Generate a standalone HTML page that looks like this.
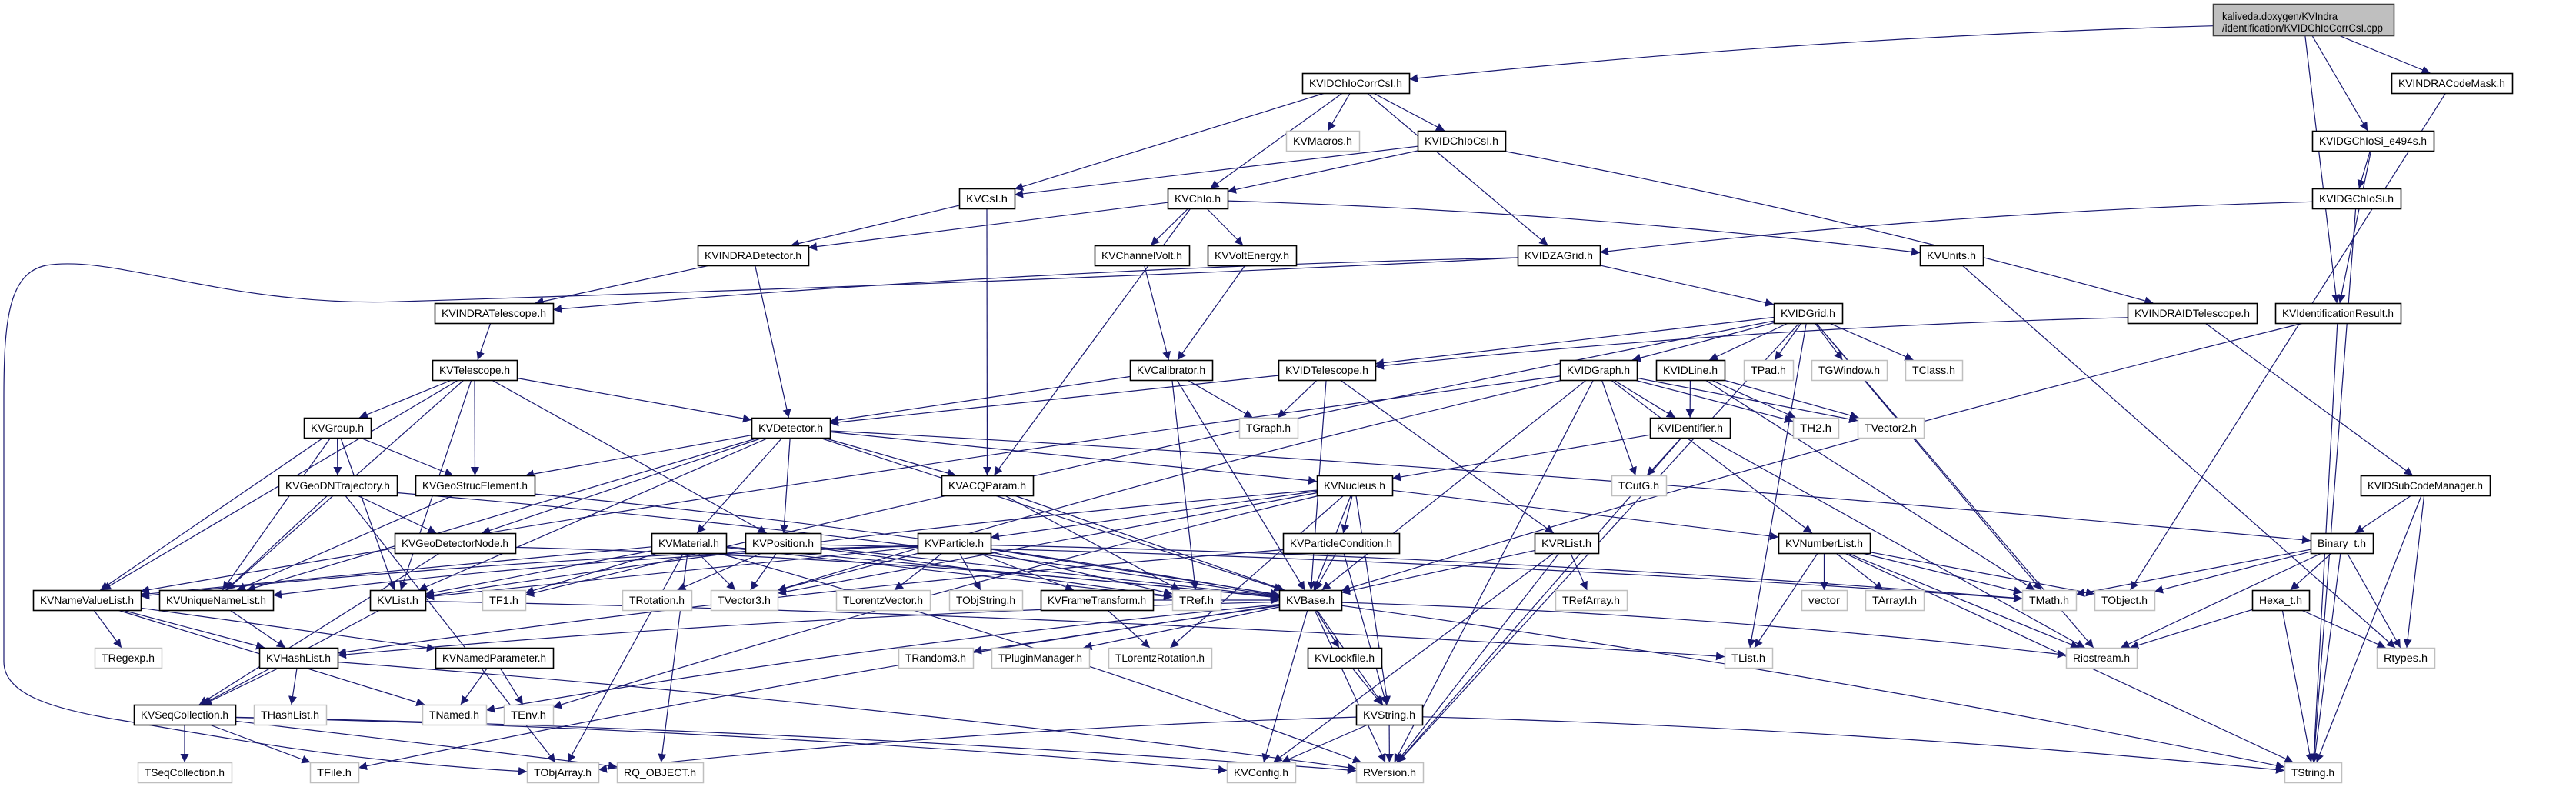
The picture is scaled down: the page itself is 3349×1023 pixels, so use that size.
<!DOCTYPE html>
<html><head><meta charset="utf-8">
<style>
html,body{margin:0;padding:0;background:#fff;width:3349px;height:1023px;overflow:hidden}
svg{display:block}
text{font-family:"Liberation Sans",sans-serif;font-size:13.5px;fill:#000}
</style></head>
<body>
<svg id="g" width="3349" height="1023" viewBox="0 0 3349 1023" xmlns="http://www.w3.org/2000/svg">
<defs>
<marker id="ah" viewBox="0 0 10 10" refX="10" refY="5" markerWidth="11" markerHeight="11" markerUnits="userSpaceOnUse" orient="auto">
<path d="M0,0 L10,5 L0,10 z" fill="#191970"/>
</marker>
</defs>
<g id="edges" fill="none" stroke="#191970" stroke-width="1.2">
<path d="M1973,335 C1500,360 900,380 520,392 C300,400 150,330 60,345 C10,355 5,420 5,520 L5,860 C5,900 60,920 150,935 C300,960 450,990 685,1003" marker-end="url(#ah)"/>
</g>
<g id="nodes"></g>
</svg>
<script>
var R=[6,95,170,245,319,394,468,543,618,693,767,842,916,991];
var N={
"root":[2877,3112,-1,0],
"KVIDChIoCorrCsI.h":[1693,1832,1,0],
"KVINDRACodeMask.h":[3109,3266,1,0],
"KVMacros.h":[1672,1767,2,1],
"KVIDChIoCsI.h":[1843,1957,2,0],
"KVIDGChIoSi_e494s.h":[3006,3164,2,0],
"KVCsI.h":[1247,1319,3,0],
"KVChIo.h":[1518,1596,3,0],
"KVIDGChIoSi.h":[3006,3121,3,0],
"KVINDRADetector.h":[907,1051,4,0],
"KVChannelVolt.h":[1423,1546,4,0],
"KVVoltEnergy.h":[1570,1685,4,0],
"KVIDZAGrid.h":[1973,2080,4,0],
"KVUnits.h":[2496,2578,4,0],
"KVINDRATelescope.h":[565,719,5,0],
"KVIDGrid.h":[2306,2395,5,0],
"KVINDRAIDTelescope.h":[2766,2934,5,0],
"KVIdentificationResult.h":[2958,3121,5,0],
"KVTelescope.h":[562,672,6,0],
"KVCalibrator.h":[1469,1576,6,0],
"KVIDTelescope.h":[1662,1788,6,0],
"KVIDGraph.h":[2028,2128,6,0],
"KVIDLine.h":[2153,2242,6,0],
"TPad.h":[2267,2331,6,1],
"TGWindow.h":[2355,2453,6,1],
"TClass.h":[2477,2551,6,1],
"KVGroup.h":[395,482,7,0],
"KVDetector.h":[977,1079,7,0],
"TGraph.h":[1611,1687,7,1],
"KVIDentifier.h":[2145,2249,7,0],
"TH2.h":[2331,2390,7,1],
"TVector2.h":[2415,2501,7,1],
"KVGeoDNTrajectory.h":[362,516,8,0],
"KVGeoStrucElement.h":[540,695,8,0],
"KVACQParam.h":[1224,1343,8,0],
"KVNucleus.h":[1712,1810,8,0],
"TCutG.h":[2095,2166,8,1],
"KVIDSubCodeManager.h":[3069,3237,8,0],
"KVGeoDetectorNode.h":[513,670,9,0],
"KVMaterial.h":[847,944,9,0],
"KVPosition.h":[969,1067,9,0],
"KVParticle.h":[1193,1288,9,0],
"KVParticleCondition.h":[1668,1819,9,0],
"KVRList.h":[1995,2078,9,0],
"KVNumberList.h":[2312,2431,9,0],
"Binary_t.h":[3004,3085,9,0],
"KVNameValueList.h":[43,183,10,0],
"KVUniqueNameList.h":[207,355,10,0],
"KVList.h":[481,553,10,0],
"TF1.h":[627,683,10,1],
"TRotation.h":[809,899,10,1],
"TVector3.h":[924,1011,10,1],
"TLorentzVector.h":[1087,1209,10,1],
"TObjString.h":[1234,1329,10,1],
"KVFrameTransform.h":[1353,1499,10,0],
"TRef.h":[1524,1587,10,1],
"KVBase.h":[1663,1744,10,0],
"TRefArray.h":[2022,2115,10,1],
"vector":[2342,2401,10,1],
"TArrayI.h":[2425,2501,10,1],
"TMath.h":[2629,2699,10,1],
"TObject.h":[2723,2801,10,1],
"Hexa_t.h":[2928,3002,10,0],
"TRegexp.h":[123,210,11,1],
"KVHashList.h":[337,439,11,0],
"KVNamedParameter.h":[566,719,11,0],
"TRandom3.h":[1168,1265,11,1],
"TPluginManager.h":[1289,1416,11,1],
"TLorentzRotation.h":[1441,1575,11,1],
"KVLockfile.h":[1700,1796,11,0],
"TList.h":[2242,2304,11,1],
"Riostream.h":[2686,2778,11,1],
"Rtypes.h":[3090,3165,11,1],
"KVSeqCollection.h":[174,306,12,0],
"THashList.h":[330,424,12,1],
"TNamed.h":[549,632,12,1],
"TEnv.h":[655,719,12,1],
"KVString.h":[1763,1849,12,0],
"TSeqCollection.h":[179,301,13,1],
"TFile.h":[403,466,13,1],
"TObjArray.h":[685,778,13,1],
"RQ_OBJECT.h":[802,914,13,1],
"KVConfig.h":[1595,1684,13,1],
"RVersion.h":[1763,1850,13,1],
"TString.h":[2970,3044,13,1]
};
var E={
"root":["KVIDChIoCorrCsI.h","KVINDRACodeMask.h","KVIDGChIoSi_e494s.h","KVIdentificationResult.h"],
"KVIDChIoCorrCsI.h":["KVCsI.h","KVMacros.h","KVIDChIoCsI.h","KVChIo.h","KVIDZAGrid.h"],
"KVIDChIoCsI.h":["KVChIo.h","KVCsI.h","KVINDRAIDTelescope.h"],
"KVCsI.h":["KVINDRADetector.h","KVACQParam.h"],
"KVChIo.h":["KVINDRADetector.h","KVChannelVolt.h","KVVoltEnergy.h","KVUnits.h","KVACQParam.h"],
"KVINDRADetector.h":["KVINDRATelescope.h","KVDetector.h"],
"KVINDRATelescope.h":["KVTelescope.h"],
"KVChannelVolt.h":["KVCalibrator.h"],
"KVVoltEnergy.h":["KVCalibrator.h"],
"KVIDGChIoSi_e494s.h":["KVIDGChIoSi.h","KVIdentificationResult.h"],
"KVIDGChIoSi.h":["KVIDZAGrid.h","TString.h"],
"KVINDRACodeMask.h":["TObject.h"],
"KVIDZAGrid.h":["KVIDGrid.h","KVINDRATelescope.h"],
"KVUnits.h":["Rtypes.h"],
"KVINDRAIDTelescope.h":["KVIDTelescope.h","KVIDSubCodeManager.h"],
"KVIdentificationResult.h":["KVBase.h","TString.h"],
"KVIDGrid.h":["KVIDGraph.h","KVIDLine.h","TPad.h","TGWindow.h","TClass.h","TMath.h","TList.h","Riostream.h","RVersion.h","TF1.h","KVIDTelescope.h"],
"KVIDTelescope.h":["KVDetector.h","TGraph.h","KVRList.h","KVBase.h"],
"KVCalibrator.h":["KVDetector.h","TGraph.h","TRef.h","KVBase.h"],
"KVIDGraph.h":["KVIDentifier.h","TCutG.h","TH2.h","TVector2.h","KVNumberList.h","RVersion.h","KVNameValueList.h","TVector3.h","KVBase.h"],
"KVIDLine.h":["KVIDentifier.h","TH2.h","TVector2.h","TMath.h"],
"KVIDentifier.h":["KVNucleus.h","TCutG.h","Riostream.h","RVersion.h"],
"KVTelescope.h":["KVGroup.h","KVGeoStrucElement.h","KVDetector.h","KVPosition.h","KVNameValueList.h","KVList.h","KVUniqueNameList.h"],
"KVGroup.h":["KVGeoDNTrajectory.h","KVGeoStrucElement.h","KVNameValueList.h","KVList.h","KVUniqueNameList.h"],
"KVGeoDNTrajectory.h":["KVGeoDetectorNode.h","KVUniqueNameList.h","TObjArray.h","KVBase.h"],
"KVGeoStrucElement.h":["KVUniqueNameList.h","KVBase.h"],
"KVGeoDetectorNode.h":["KVSeqCollection.h","KVBase.h"],
"KVDetector.h":["KVMaterial.h","KVPosition.h","KVACQParam.h","KVNucleus.h","KVList.h","KVGeoDetectorNode.h","KVGeoStrucElement.h","Binary_t.h","KVBase.h","KVUniqueNameList.h"],
"KVMaterial.h":["TVector3.h","TF1.h","KVList.h","KVBase.h","TRef.h","RQ_OBJECT.h","TObjArray.h","RVersion.h","KVNameValueList.h"],
"KVPosition.h":["TRotation.h","TVector3.h","KVBase.h","TMath.h","TRef.h"],
"KVParticle.h":["TLorentzVector.h","TObjString.h","KVFrameTransform.h","TVector3.h","KVList.h","KVNameValueList.h","TRef.h","KVBase.h","TMath.h","KVUniqueNameList.h"],
"KVFrameTransform.h":["TLorentzRotation.h","KVBase.h"],
"KVACQParam.h":["KVBase.h","TRef.h"],
"KVNucleus.h":["KVParticleCondition.h","KVParticle.h","KVBase.h","KVString.h","KVNumberList.h","TVector3.h","KVList.h","TEnv.h","TLorentzRotation.h"],
"KVParticleCondition.h":["KVBase.h","KVString.h","KVHashList.h"],
"KVRList.h":["KVBase.h","TRefArray.h","KVConfig.h","RVersion.h"],
"KVNumberList.h":["vector","TArrayI.h","TList.h","TObject.h","TMath.h","TString.h","Riostream.h"],
"Binary_t.h":["TMath.h","TObject.h","Hexa_t.h","Riostream.h","Rtypes.h","TString.h"],
"Hexa_t.h":["Riostream.h","Rtypes.h","TString.h"],
"KVIDSubCodeManager.h":["Binary_t.h","Rtypes.h","TString.h"],
"KVNameValueList.h":["TRegexp.h","KVHashList.h","KVNamedParameter.h","TNamed.h"],
"KVUniqueNameList.h":["KVHashList.h"],
"KVList.h":["KVSeqCollection.h","TList.h"],
"KVHashList.h":["KVSeqCollection.h","THashList.h","RVersion.h"],
"KVNamedParameter.h":["TNamed.h","TEnv.h"],
"KVSeqCollection.h":["TSeqCollection.h","TFile.h","KVConfig.h","RVersion.h","RQ_OBJECT.h"],
"KVBase.h":["KVHashList.h","TRandom3.h","TPluginManager.h","KVLockfile.h","KVString.h","KVConfig.h","RVersion.h","TString.h","Riostream.h","TNamed.h","TFile.h"],
"KVLockfile.h":["KVString.h"],
"KVString.h":["KVConfig.h","RVersion.h","TString.h","TObjArray.h"]
};
function box(n){var a=N[n];var y1=a[2]<0?5:R[a[2]],y2=a[2]<0?46:R[a[2]]+26;return {x1:a[0],x2:a[1],y1:y1,y2:y2,cx:(a[0]+a[1])/2,cy:(y1+y2)/2};}
function clip(b,px,py,qx,qy){
 var dx=qx-px,dy=qy-py,t=1e9;
 var hw=(b.x2-b.x1)/2,hh=(b.y2-b.y1)/2;
 if(dx!==0)t=Math.min(t,hw/Math.abs(dx));
 if(dy!==0)t=Math.min(t,hh/Math.abs(dy));
 return [px+dx*t,py+dy*t];}
var ns="http://www.w3.org/2000/svg";
var eg=document.getElementById("edges"),ng=document.getElementById("nodes");
for(var s in E){var a=box(s);E[s].forEach(function(t){
 var b=box(t);
 var sx=a.cx+(b.cx-a.cx)*0.08, tx=b.cx+(a.cx-b.cx)*0.04;
 var p=clip(a,a.cx,a.cy,tx,b.cy);var q=clip(b,b.cx,b.cy,sx,a.cy);
 var path=document.createElementNS(ns,"path");
 var mx=(p[0]+q[0])/2,my=(p[1]+q[1])/2;
 path.setAttribute("d","M"+p[0].toFixed(1)+","+p[1].toFixed(1)+" Q"+(mx).toFixed(1)+","+(my+(Math.abs(q[0]-p[0])>800?-20:0)).toFixed(1)+" "+q[0].toFixed(1)+","+q[1].toFixed(1));
 path.setAttribute("marker-end","url(#ah)");
 eg.appendChild(path);});}
for(var n in N){var b=box(n),g=N[n][3];
 var r=document.createElementNS(ns,"rect");
 r.setAttribute("x",b.x1+0.5);r.setAttribute("y",b.y1+0.5);
 r.setAttribute("width",b.x2-b.x1);r.setAttribute("height",b.y2-b.y1);
 r.setAttribute("fill",n=="root"?"#bfbfbf":"#fff");
 r.setAttribute("stroke",g?"#bfbfbf":(n=="root"?"#404040":"#000"));
 r.setAttribute("stroke-width",g?"1.5":"1.6");
 ng.appendChild(r);
 if(n=="root"){
  ["kaliveda.doxygen/KVIndra","/identification/KVIDChIoCorrCsI.cpp"].forEach(function(s,i){
   var t=document.createElementNS(ns,"text");t.setAttribute("x",b.x1+12);t.setAttribute("y",b.y1+21+i*15);
   t.setAttribute("textLength",i?209:150);t.setAttribute("lengthAdjust","spacingAndGlyphs");
   t.textContent=s;ng.appendChild(t);});
 } else {
  var t=document.createElementNS(ns,"text");
  t.setAttribute("x",b.cx);t.setAttribute("y",b.y1+18);t.setAttribute("text-anchor","middle");
  var w=b.x2-b.x1-18;t.setAttribute("textLength",w);t.setAttribute("lengthAdjust","spacingAndGlyphs");
  t.textContent=n;ng.appendChild(t);}
}
</script>
</body></html>
